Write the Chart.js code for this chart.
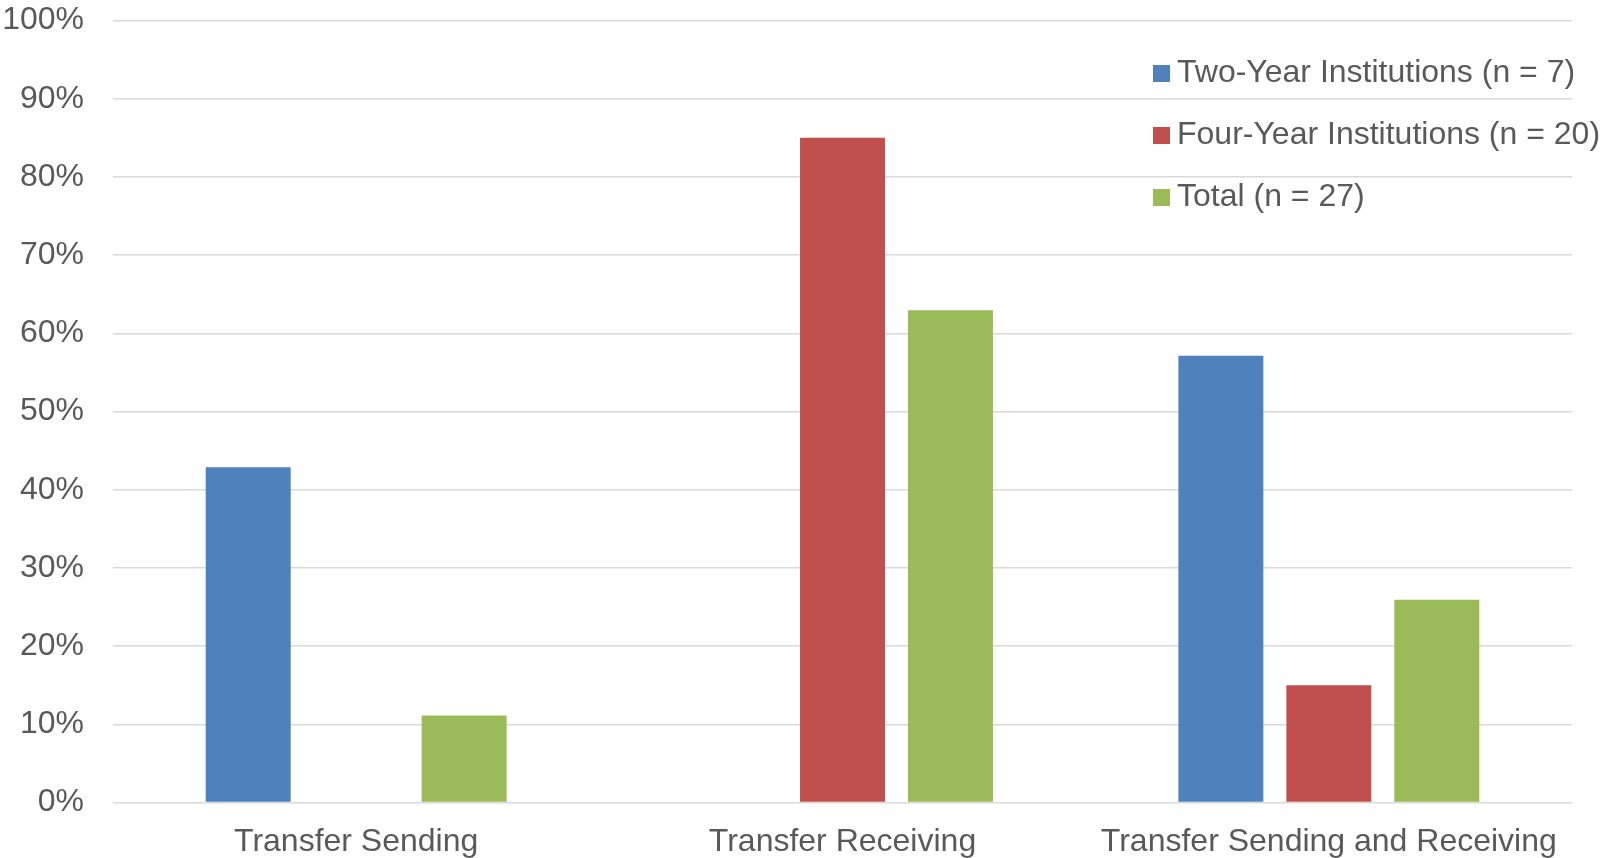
<!DOCTYPE html>
<html>
<head>
<meta charset="utf-8">
<script src="https://cdn.jsdelivr.net/npm/chart.js@4.4.0/dist/chart.umd.min.js"></script>
<style>
  html, body { margin: 0; padding: 0; background: #fff; }
  #wrap { width: 1604px; height: 858px; }
</style>
</head>
<body>
<div id="wrap"><canvas id="chart" width="1604" height="858"></canvas></div>
<script>
const categories = ['Transfer Sending', 'Transfer Receiving', 'Transfer Sending and Receiving'];
const twoYear = [42.86, 0, 57.14];
const fourYear = [0, 85, 15];
const total = [11.11, 62.96, 25.93];
const seriesLabels = ['Two-Year Institutions (n = 7)', 'Four-Year Institutions (n = 20)', 'Total (n = 27)'];
const yTicks = [0, 10, 20, 30, 40, 50, 60, 70, 80, 90, 100];

const textColor = '#595959';
const fontFamily = '"Liberation Sans", Arial, sans-serif';

// legend drawn inside the plot, top right, like the original
const insideLegend = {
    id: 'insideLegend',
    afterDraw(chart) {
        const ctx = chart.ctx;
        ctx.save();
        ctx.font = '32px ' + fontFamily;
        ctx.textBaseline = 'middle';
        chart.data.datasets.forEach((ds, i) => {
            const y = 73 + i * 62;
            ctx.fillStyle = ds.backgroundColor;
            ctx.fillRect(1153, y - 8, 17, 17);
            ctx.fillStyle = textColor;
            ctx.fillText(ds.label, 1177, y);
        });
        ctx.restore();
    }
};

new Chart(document.getElementById('chart').getContext('2d'), {
    type: 'bar',
    data: {
        labels: categories,
        datasets: [
            { label: seriesLabels[0], data: twoYear, backgroundColor: '#4F81BD' },
            { label: seriesLabels[1], data: fourYear, backgroundColor: '#C0504D' },
            { label: seriesLabels[2], data: total, backgroundColor: '#9BBB59' }
        ]
    },
    options: {
        responsive: false,
        animation: false,
        categoryPercentage: 0.666,
        barPercentage: 0.787,
        layout: { padding: { left: 3, right: 32, top: 20.5, bottom: 0 } },
        plugins: {
            legend: { display: false },
            tooltip: { enabled: false }
        },
        scales: {
            x: {
                grid: { display: false, drawTicks: false },
                border: { display: false },
                ticks: {
                    color: textColor,
                    font: { family: fontFamily, size: 32, lineHeight: 1 },
                    padding: 24,
                    maxRotation: 0,
                    autoSkip: false
                },
                afterFit: (axis) => {
                    axis.height = 55.5;
                    axis.paddingLeft = 0;
                    axis.paddingRight = 0;
                }
            },
            y: {
                min: 0,
                max: 100,
                afterBuildTicks: (axis) => {
                    axis.ticks = yTicks.map(v => ({ value: v }));
                },
                grid: { color: '#D9D9D9', lineWidth: 1.5, drawTicks: false },
                border: { display: false },
                ticks: {
                    color: textColor,
                    font: { family: fontFamily, size: 32 },
                    padding: 29,
                    callback: (v) => v + '%'
                },
                afterFit: (axis) => {
                    axis.width = 110;
                    axis.paddingTop = 0;
                    axis.paddingBottom = 0;
                }
            }
        }
    },
    plugins: [insideLegend]
});
</script>
</body>
</html>
